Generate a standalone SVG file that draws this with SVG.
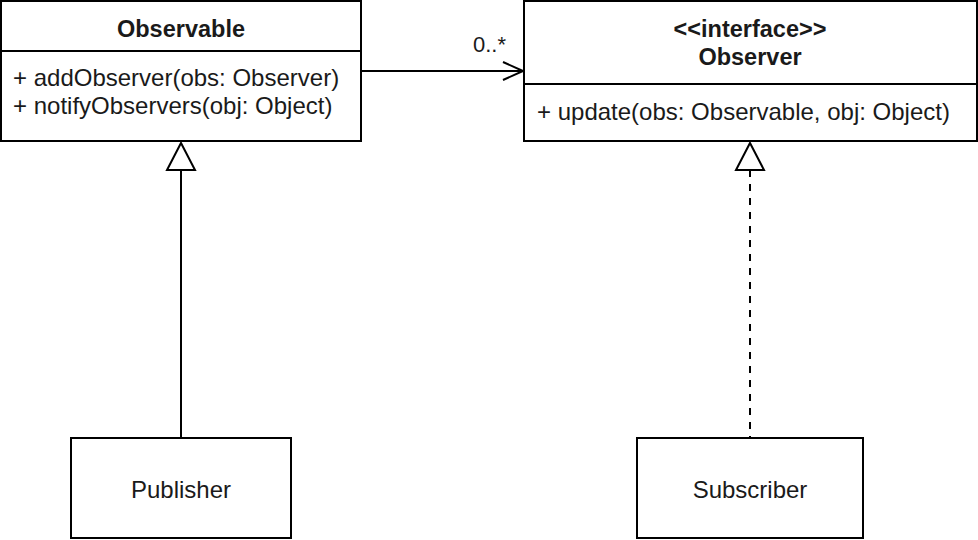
<svg xmlns="http://www.w3.org/2000/svg" width="978" height="540" viewBox="0 0 978 540">
<defs>
<style>
.box{fill:#fff;stroke:#000;stroke-width:2}
.ln{fill:none;stroke:#000;stroke-width:2}
text{font-family:"Liberation Sans",Arial,Helvetica,sans-serif;font-size:24px;fill:#1a1a1a}
.b{font-weight:bold;font-size:23.5px}
.c{text-anchor:middle}
</style>
<marker id="open" markerWidth="24" markerHeight="24" refX="22" refY="12" viewBox="0 0 24 24" markerUnits="userSpaceOnUse" orient="auto">
<path d="M2,3 L22,12 L2,21" fill="none" stroke="#000" stroke-width="2"/>
</marker>
</defs>
<rect width="978" height="540" fill="#fff"/>
<g id="connectors">
<line class="ln" x1="361" y1="71" x2="523" y2="71" marker-end="url(#open)"/>
<text x="473" y="52" style="font-size:22px">0..*</text>
<line class="ln" x1="181" y1="170" x2="181" y2="438"/>
<polygon class="box" points="181,143 195,170 167,170"/>
<line class="ln" x1="750" y1="170" x2="750" y2="438" stroke-dasharray="7,7"/>
<polygon class="box" points="750,143 764,170 736,170"/>
</g>
<g id="observable">
<rect class="box" x="1" y="1" width="360" height="140"/>
<line class="ln" x1="1" y1="51" x2="361" y2="51"/>
<text class="b c" x="181" y="37">Observable</text>
<text x="13" y="86">+ addObserver(obs: Observer)</text>
<text x="13" y="114">+ notifyObservers(obj: Object)</text>
</g>
<g id="observer">
<rect class="box" x="524" y="1" width="453" height="140"/>
<line class="ln" x1="524" y1="84" x2="977" y2="84"/>
<text class="b c" x="750" y="37">&lt;&lt;interface&gt;&gt;</text>
<text class="b c" x="750" y="65">Observer</text>
<text x="537" y="120">+ update(obs: Observable, obj: Object)</text>
</g>
<g id="publisher">
<rect class="box" x="71" y="438" width="220" height="100"/>
<text class="c" x="181" y="498">Publisher</text>
</g>
<g id="subscriber">
<rect class="box" x="637" y="438" width="226" height="100"/>
<text class="c" x="750" y="498">Subscriber</text>
</g>
</svg>
